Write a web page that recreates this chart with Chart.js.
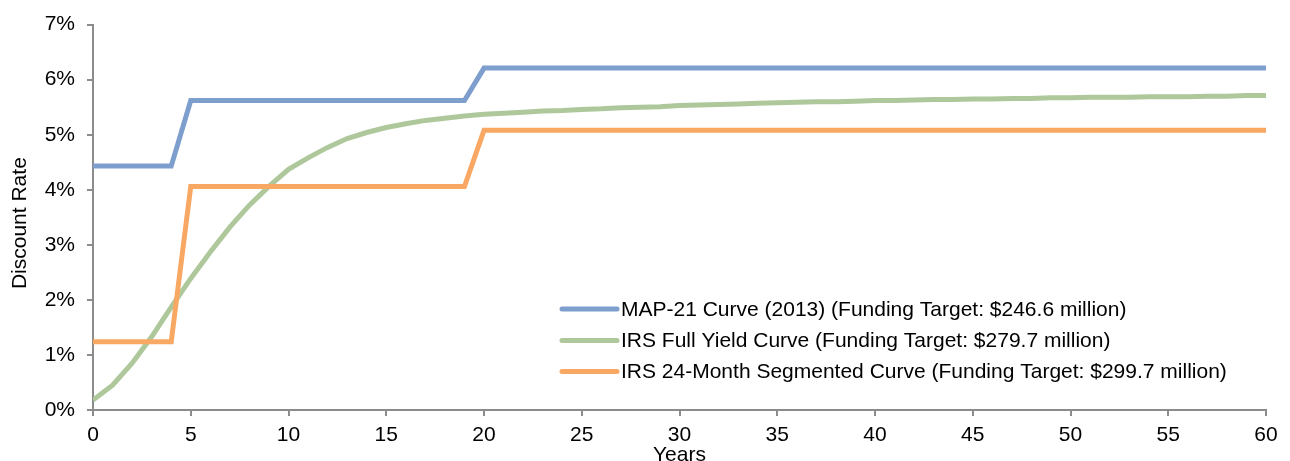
<!DOCTYPE html>
<html>
<head>
<meta charset="utf-8">
<script src="https://cdn.jsdelivr.net/npm/chart.js@4"></script>
<style>
  html, body { margin: 0; padding: 0; background: #fff; }
  #wrap { width: 1290px; height: 461px; position: relative; }
</style>
</head>
<body>
<div id="wrap"><canvas id="chart"></canvas></div>
<script>
const seriesLabels = [
  "MAP-21 Curve (2013) (Funding Target: $246.6 million)",
  "IRS Full Yield Curve (Funding Target: $279.7 million)",
  "IRS 24-Month Segmented Curve (Funding Target: $299.7 million)"
];

// step curves: only the corner points
const mapYears = [0, 4, 5, 19, 20, 60];
const mapRates = [4.43, 4.43, 5.62, 5.62, 6.21, 6.21];

const segYears = [0, 4, 5, 19, 20, 60];
const segRates = [1.24, 1.24, 4.06, 4.06, 5.08, 5.08];

// full yield curve, one value per year 0..60
const fullYears = Array.from({ length: 61 }, (_, i) => i);
const fullRates = [
  0.18, 0.45, 0.85, 1.33, 1.87, 2.39, 2.87, 3.32, 3.72, 4.06,
  4.37, 4.58, 4.77, 4.93, 5.04, 5.13, 5.20, 5.26, 5.30, 5.34,
  5.37, 5.39, 5.41, 5.43, 5.44, 5.46, 5.47, 5.49, 5.50, 5.51,
  5.53, 5.54, 5.55, 5.56, 5.57, 5.58, 5.59, 5.60, 5.60, 5.61,
  5.62, 5.62, 5.63, 5.64, 5.64, 5.65, 5.65, 5.66, 5.66, 5.67,
  5.67, 5.68, 5.68, 5.68, 5.69, 5.69, 5.69, 5.70, 5.70, 5.71,
  5.71
];

const colors = ["#7E9ECE", "#AEC89B", "#F9A864"];

const FONT = "'Liberation Sans', Arial, sans-serif";
const FSIZE = 21;
const TEXT = "#000000";
const AXIS = "#8C8C8C";

function toPoints(xs, ys) {
  return xs.map((x, i) => ({ x: x, y: ys[i] }));
}

// legend drawn inside the plot area, lower right
const innerLegend = {
  id: "innerLegend",
  afterDraw(chart) {
    const ctx = chart.ctx;
    const x0 = 562, lineLen = 55, gap = 4;
    const rows = [309, 340.5, 371.5];
    ctx.save();
    ctx.font = FSIZE + "px " + FONT;
    ctx.textBaseline = "middle";
    ctx.textAlign = "left";
    chart.data.datasets.forEach((ds, i) => {
      ctx.strokeStyle = ds.borderColor;
      ctx.lineWidth = 5;
      ctx.lineCap = "round";
      ctx.beginPath();
      ctx.moveTo(x0, rows[i]);
      ctx.lineTo(x0 + lineLen, rows[i]);
      ctx.stroke();
      ctx.fillStyle = TEXT;
      ctx.fillText(ds.label, x0 + lineLen + gap, rows[i] + 1);
    });
    ctx.restore();
  }
};

new Chart(document.getElementById("chart"), {
  type: "line",
  data: {
    datasets: [
      {
        label: seriesLabels[0],
        data: toPoints(mapYears, mapRates),
        borderColor: colors[0],
        order: 1
      },
      {
        label: seriesLabels[1],
        data: toPoints(fullYears, fullRates),
        borderColor: colors[1],
        order: 2
      },
      {
        label: seriesLabels[2],
        data: toPoints(segYears, segRates),
        borderColor: colors[2],
        order: 0
      }
    ]
  },
  options: {
    responsive: true,
    maintainAspectRatio: false,
    animation: false,
    devicePixelRatio: 1,
    layout: { padding: { top: 24, right: 24, left: 0, bottom: 0 } },
    elements: {
      line: { borderWidth: 5, tension: 0, fill: false, borderJoinStyle: "miter" },
      point: { radius: 0, hoverRadius: 0 }
    },
    plugins: {
      legend: { display: false },
      tooltip: { enabled: false }
    },
    scales: {
      x: {
        type: "linear",
        min: 0,
        max: 60,
        afterFit(scale) { scale.height = 51; },
        ticks: {
          stepSize: 5,
          padding: 7,
          maxRotation: 0,
          color: TEXT,
          font: { family: FONT, size: FSIZE }
        },
        grid: {
          drawOnChartArea: false,
          drawTicks: true,
          tickLength: 6,
          lineWidth: 2,
          color: AXIS
        },
        border: { color: AXIS, width: 2 },
        title: {
          display: true,
          text: "Years",
          color: TEXT,
          font: { family: FONT, size: FSIZE },
          padding: { top: 0, bottom: -6.5 }
        }
      },
      y: {
        min: 0,
        max: 7,
        afterFit(scale) { scale.width = 93; },
        ticks: {
          stepSize: 1,
          padding: 12,
          color: TEXT,
          font: { family: FONT, size: FSIZE },
          callback: function(value) {
            return value + "%";
          }
        },
        grid: {
          drawOnChartArea: false,
          drawTicks: true,
          tickLength: 6,
          lineWidth: 2,
          color: AXIS
        },
        border: { color: AXIS, width: 2 },
        title: {
          display: true,
          text: "Discount Rate  ",
          color: TEXT,
          font: { family: FONT, size: FSIZE },
          padding: { top: 8, bottom: 0 }
        }
      }
    }
  },
  plugins: [innerLegend]
});
</script>
</body>
</html>
